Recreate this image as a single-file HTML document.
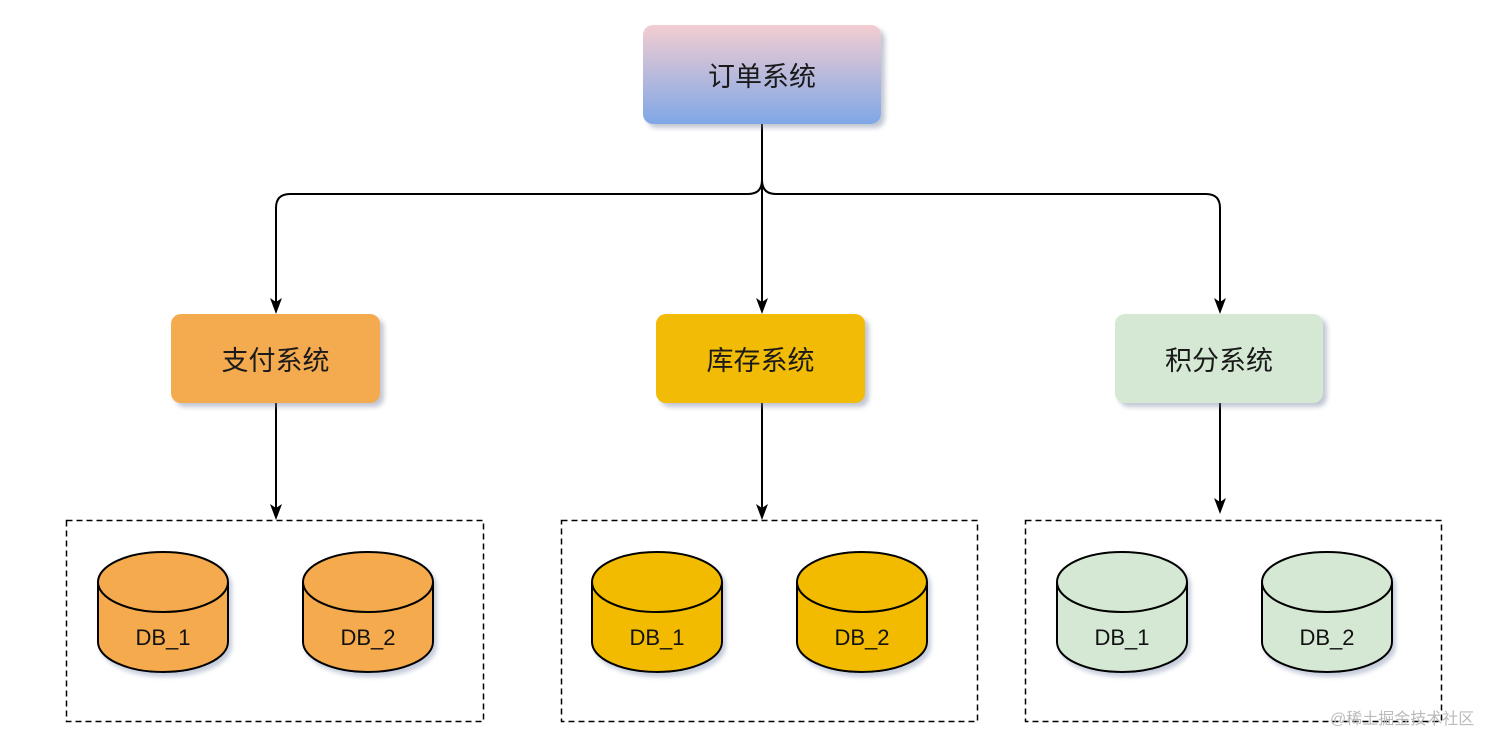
<!DOCTYPE html>
<html><head><meta charset="utf-8"><style>
body{margin:0;width:1512px;height:747px;background:#fff;overflow:hidden;position:relative;font-family:"Liberation Sans","Noto Sans CJK SC",sans-serif}
.b{position:absolute;border-radius:10px;display:flex;align-items:center;justify-content:center;font-size:27px;font-weight:normal;color:#1a1a1a;box-shadow:4px 4px 5px rgba(120,130,160,.45)}
.wm{position:absolute;left:1330px;top:705px;font-size:16px;color:#bbb}
</style></head><body>
<svg width="1512" height="747" style="position:absolute;left:0;top:0">
<defs>
<filter id="s" x="-20%" y="-20%" width="150%" height="150%"><feDropShadow dx="3" dy="4" stdDeviation="2" flood-color="#8090b0" flood-opacity=".45"/></filter>
</defs>
<g stroke="#000" stroke-width="2" fill="none">
<path d="M762 124 V180 Q762 194 748 194 H290 Q276 194 276 208 V302"/>
<path d="M762 124 V180 Q762 194 776 194 H1206 Q1220 194 1220 208 V302"/>
<path d="M762 124 V302"/>
<path d="M276 403 V508"/><path d="M762 403 V508"/><path d="M1220 403 V502"/>
</g>
<g fill="#000">
<path d="M270 298 L276 314 L282 298 L276 302 Z"/>
<path d="M756 298 L762 314 L768 298 L762 302 Z"/>
<path d="M1214 298 L1220 314 L1226 298 L1220 302 Z"/>
<path d="M270 504 L276 520 L282 504 L276 508 Z"/>
<path d="M756 504 L762 520 L768 504 L762 508 Z"/>
<path d="M1214 498 L1220 514 L1226 498 L1220 502 Z"/>
</g>
<g stroke="#000" stroke-width="1.5" fill="none" stroke-dasharray="6 4">
<rect x="66.5" y="520.5" width="417" height="201"/>
<rect x="561.5" y="520.5" width="416" height="201"/>
<rect x="1025.5" y="520.5" width="416" height="201"/>
</g>
<g stroke="#000" stroke-width="2" font-family="Liberation Sans,sans-serif" font-size="22">
<g fill="#f4aa4e">
<path filter="url(#s)" d="M98 582 A65 30 0 0 1 228 582 V642 A65 30 0 0 1 98 642 Z"/><path d="M98 582 A65 30 0 0 0 228 582" fill="none"/>
<path filter="url(#s)" d="M303 582 A65 30 0 0 1 433 582 V642 A65 30 0 0 1 303 642 Z"/><path d="M303 582 A65 30 0 0 0 433 582" fill="none"/>
</g>
<g fill="#f2bb05">
<path filter="url(#s)" d="M592 582 A65 30 0 0 1 722 582 V642 A65 30 0 0 1 592 642 Z"/><path d="M592 582 A65 30 0 0 0 722 582" fill="none"/>
<path filter="url(#s)" d="M797 582 A65 30 0 0 1 927 582 V642 A65 30 0 0 1 797 642 Z"/><path d="M797 582 A65 30 0 0 0 927 582" fill="none"/>
</g>
<g fill="#d5e8d4">
<path filter="url(#s)" d="M1057 582 A65 30 0 0 1 1187 582 V642 A65 30 0 0 1 1057 642 Z"/><path d="M1057 582 A65 30 0 0 0 1187 582" fill="none"/>
<path filter="url(#s)" d="M1262 582 A65 30 0 0 1 1392 582 V642 A65 30 0 0 1 1262 642 Z"/><path d="M1262 582 A65 30 0 0 0 1392 582" fill="none"/>
</g>
<g stroke="none" fill="#111" text-anchor="middle">
<text x="163" y="645">DB_1</text><text x="368" y="645">DB_2</text>
<text x="657" y="645">DB_1</text><text x="862" y="645">DB_2</text>
<text x="1122" y="645">DB_1</text><text x="1327" y="645">DB_2</text>
</g>
</g>
</svg>
<div class="b" style="left:643px;top:25px;width:238px;height:99px;background:linear-gradient(#f3cdd1,#7fa7e6)">订单系统</div>
<div class="b" style="left:171px;top:314px;width:209px;height:89px;background:#f4aa4e">支付系统</div>
<div class="b" style="left:656px;top:314px;width:209px;height:89px;background:#f2bb05">库存系统</div>
<div class="b" style="left:1115px;top:314px;width:208px;height:89px;background:#d5e8d4">积分系统</div>
<div class="wm">@稀土掘金技术社区</div>
</body></html>
